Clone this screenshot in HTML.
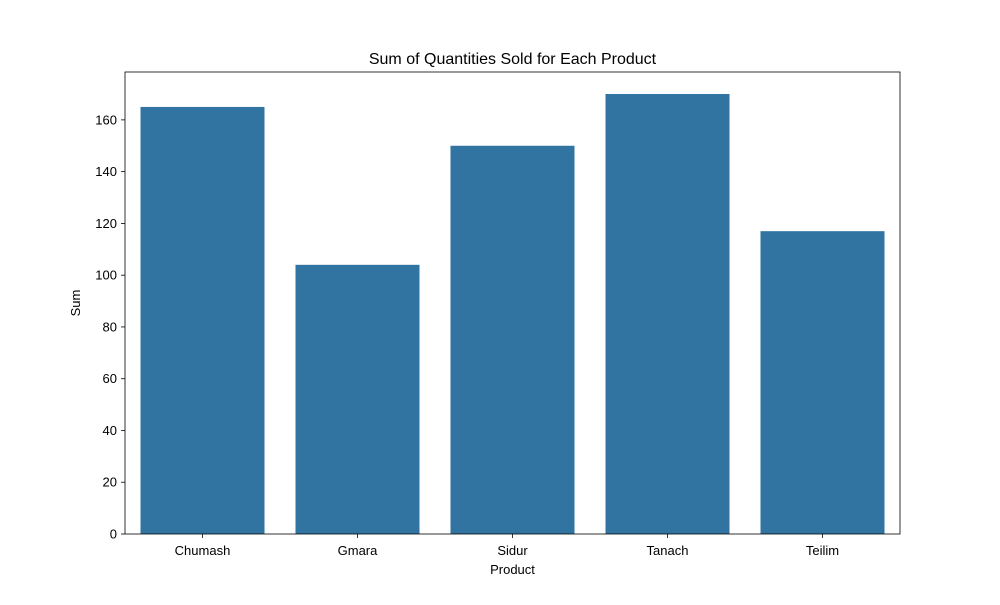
<!DOCTYPE html>
<html><head><meta charset="utf-8"><style>
body{margin:0;background:#fff;}
svg text{font-family:"Liberation Sans","DejaVu Sans",sans-serif;}
</style></head><body>
<svg id="chart" width="1000" height="600" xmlns="http://www.w3.org/2000/svg"></svg>
<script>
const categories = ["Chumash","Gmara","Sidur","Tanach","Teilim"];
const values = [165,104,150,170,117];
const yTicks = [0,20,40,60,80,100,120,140,160];
const yMax = 178.5;

const L=125,R=900,T=72,B=534;
const svg=document.getElementById('chart');
const NS="http://www.w3.org/2000/svg";
function mk(tag,attrs){const e=document.createElementNS(NS,tag);for(const k in attrs)e.setAttribute(k,attrs[k]);svg.appendChild(e);return e;}
const band=(R-L)/categories.length;
const xC=i=>L+band*(i+0.5);
const y=v=>B-(B-T)*v/yMax;

categories.forEach((c,i)=>{
  const r=mk('rect',{x:xC(i)-band*0.4,y:y(values[i]),width:band*0.8,height:B-y(values[i]),fill:'#3274a1'});
  
  
  mk('line',{x1:xC(i),x2:xC(i),y1:B,y2:B+4,stroke:'#000','stroke-width':0.8});
  const t=mk('text',{x:xC(i),y:B+21,'text-anchor':'middle','font-size':13});
  t.textContent=c;
  
  
});
yTicks.forEach(v=>{
  mk('line',{x1:L-4,x2:L,y1:y(v),y2:y(v),stroke:'#000','stroke-width':0.8});
  const t=mk('text',{x:L-8,y:y(v)+4.5,'text-anchor':'end','font-size':13});
  t.textContent=v;
  
  
});
const frame=mk('rect',{x:L,y:T,width:R-L,height:B-T,fill:'none',stroke:'#000','stroke-width':0.8});


const title=mk('text',{x:(L+R)/2,y:64,'text-anchor':'middle','font-size':16});
title.textContent='Sum of Quantities Sold for Each Product';


const xl=mk('text',{x:(L+R)/2,y:574,'text-anchor':'middle','font-size':13});
xl.textContent='Product';


const yl=mk('text',{x:80,y:(T+B)/2,'text-anchor':'middle','font-size':13,transform:'rotate(-90 80 '+((T+B)/2)+')'});
yl.textContent='Sum';


</script>
</body></html>
